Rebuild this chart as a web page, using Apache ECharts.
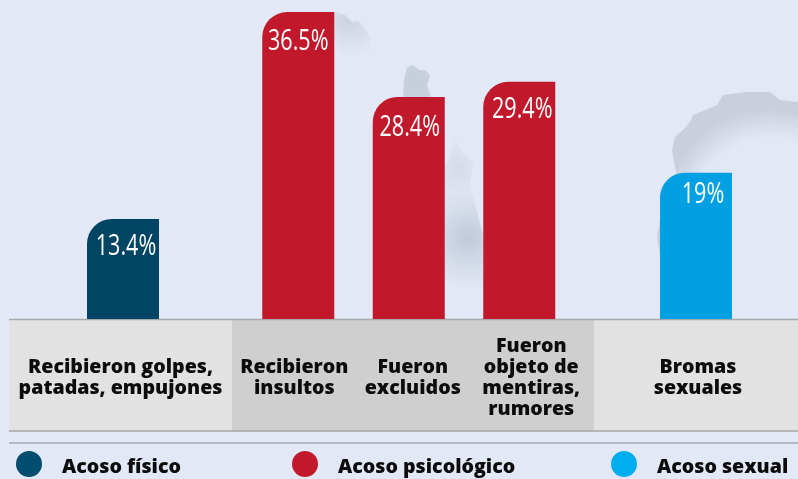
<!DOCTYPE html>
<html>
<head>
<meta charset="utf-8">
<style>
  html, body { margin: 0; padding: 0; background: #e2e8f5; }
  #chart { width: 798px; height: 479px; }
</style>
<script src="https://cdn.jsdelivr.net/npm/echarts@6/dist/echarts.min.js"></script>
</head>
<body>
<div id="chart"></div>
<script>
  const fisicoCategories = ['Recibieron golpes,\npatadas, empujones']
  const psicoCategories = ['Recibieron\ninsultos', 'Fueron\nexcluidos', 'Fueron\nobjeto de\nmentiras,\nrumores']
  const sexualCategories = ['Bromas\nsexuales']

  // printed percentages
  const fisicoLabels = ['13.4%']
  const psicoLabels = ['36.5%', '28.4%', '29.4%']
  const sexualLabels = ['19%']

  // the bars in the picture are not quite to scale with their printed numbers,
  // so these are the heights, in the units of the tallest bar
  const fisicoHeights = [11.9]
  const psicoHeights = [36.5, 26.4, 28.2]
  const sexualHeights = [17.4]

  const seriesNames = ['Acoso físico', 'Acoso psicológico', 'Acoso sexual']
  const seriesColors = ['#004563', '#c1182b', '#00a0e3']
  const legendColors = ['#004d70', '#c1182b', '#00aeef']

  const chart = echarts.init(document.getElementById('chart'))

  const sans = '"Open Sans", sans-serif'

  function grid(left, width) {
    return { left: left, width: width, top: 12, height: 307, containLabel: false }
  }
  function barAxis(index, data) {
    return { type: 'category', gridIndex: index, data: data, show: false }
  }
  function textAxis(index, data) {
    return {
      type: 'category',
      gridIndex: index,
      data: data,
      axisLine: { show: false },
      axisTick: { show: false },
      axisLabel: {
        interval: 0,
        margin: 59,
        verticalAlign: 'middle',
        color: '#0c0c0c',
        fontFamily: sans,
        fontWeight: 800,
        fontSize: 19.6,
        lineHeight: 21,
      },
    }
  }
  function yAxis(index) {
    return { type: 'value', gridIndex: index, min: 0, max: 36.5, show: false }
  }
  function barSeries(i, heights) {
    return {
      name: seriesNames[i],
      type: 'bar',
      xAxisIndex: i,
      yAxisIndex: i,
      barWidth: 72,
      itemStyle: { color: seriesColors[i], borderRadius: [25, 0, 0, 0] },
      data: heights,
    }
  }
  // the printed numbers are a condensed face, none is installed so squeeze the text
  function labelSeries(i, heights, labels, shifts) {
    return {
      type: 'custom',
      xAxisIndex: i,
      yAxisIndex: i,
      z: 3,
      clip: false,
      silent: true,
      data: heights.map(function (h, k) { return [k, h] }),
      renderItem: function (params, api) {
        const k = params.dataIndex
        const p = api.coord([api.value(0), api.value(1)])
        return {
          type: 'text',
          x: p[0] + shifts[k][0],
          y: p[1] + shifts[k][1],
          scaleX: 0.72,
          style: {
            text: labels[k],
            fill: '#fff',
            font: '400 30px ' + sans,
            textAlign: 'center',
            textVerticalAlign: 'middle',
          },
        }
      },
    }
  }
  function legend(i, left) {
    return {
      left: left,
      top: 451,
      padding: 0,
      icon: 'circle',
      itemWidth: 26,
      itemHeight: 26,
      selectedMode: false,
      data: [{ name: seriesNames[i], itemStyle: { color: legendColors[i] } }],
      formatter: function (name) { return '{a|' + name + '}' },
      textStyle: {
        padding: [0, 0, 0, 15],
        rich: {
          a: {
            color: '#0c0c0c',
            fontFamily: sans,
            fontWeight: 800,
            fontSize: 19.6,
            padding: [7, 0, 0, 0],
          },
        },
      },
    }
  }
  function shade(points, fill) {
    return { type: 'polygon', silent: true, shape: { points: points }, style: { fill: fill } }
  }
  function radial(x, y, r, stops) {
    return new echarts.graphic.RadialGradient(x, y, r, stops, true)
  }
  function panel(x, width, color) {
    return { type: 'rect', silent: true, shape: { x: x, y: 320, width: width, height: 111 }, style: { fill: color } }
  }
  function rule(x1, y, x2) {
    return { type: 'line', silent: true, shape: { x1: x1, y1: y, x2: x2, y2: y }, style: { stroke: '#a9a9ab', lineWidth: 1.4 } }
  }

  chart.setOption({
    backgroundColor: '#e2e8f5',
    animation: false,
    graphic: {
      z: -1,
      elements: [
        // faint map coastline behind the bars
        shade(
          [[657, 237], [660, 220], [670, 190], [676, 173], [672, 150], [675, 137], [685, 128], [690, 122], [693, 115], [705, 110], [717, 105], [723, 95], [747, 92], [770, 92], [780, 100], [798, 102], [798, 215], [770, 215], [700, 240], [660, 255]],
          radial(770, 215, 118, [
            { offset: 0, color: 'rgba(201,207,220,0)' },
            { offset: 0.65, color: 'rgba(201,207,220,0)' },
            { offset: 0.9, color: 'rgba(201,207,220,1)' },
            { offset: 1, color: 'rgba(201,207,220,1)' },
          ])
        ),
        shade(
          [[334, 12], [345, 15], [352, 22], [358, 21], [366, 30], [371, 40], [372, 60], [345, 60], [334, 40]],
          radial(350, 18, 38, [
            { offset: 0, color: 'rgba(201,207,220,0.9)' },
            { offset: 1, color: 'rgba(201,207,220,0)' },
          ])
        ),
        shade(
          [[404, 80], [407, 67], [413, 65], [419, 70], [425, 70], [430, 75], [427, 85], [431, 97], [403, 97]],
          radial(414, 82, 26, [
            { offset: 0, color: 'rgba(198,205,218,1)' },
            { offset: 1, color: 'rgba(198,205,218,0.8)' },
          ])
        ),
        shade(
          [[445, 170], [455, 137], [462, 153], [473, 162], [470, 185], [483, 235], [483, 285], [445, 285]],
          radial(468, 238, 50, [
            { offset: 0, color: 'rgba(190,198,214,0.9)' },
            { offset: 1, color: 'rgba(190,198,214,0)' },
          ])
        ),
        shade(
          [[445, 170], [455, 137], [462, 153], [473, 162], [470, 185], [474, 205], [445, 205]],
          radial(458, 168, 36, [
            { offset: 0, color: 'rgba(201,207,220,0.5)' },
            { offset: 1, color: 'rgba(201,207,220,0)' },
          ])
        ),
        panel(9, 223, '#e2e2e2'),
        panel(232, 362, '#cfcfcf'),
        panel(594, 204, '#e2e2e2'),
        rule(9, 319.5, 798),
        rule(9, 431, 798),
        rule(9, 443, 798),
      ],
    },
    grid: [
      grid(14, 218), grid(243, 331.5), grid(594, 204),
      grid(9, 223), grid(235, 355.5), grid(598, 200),
    ],
    xAxis: [
      barAxis(0, fisicoCategories), barAxis(1, psicoCategories), barAxis(2, sexualCategories),
      textAxis(3, fisicoCategories), textAxis(4, psicoCategories), textAxis(5, sexualCategories),
    ],
    yAxis: [yAxis(0), yAxis(1), yAxis(2), yAxis(3), yAxis(4), yAxis(5)],
    legend: [legend(0, 16), legend(1, 292), legend(2, 611)],
    series: [
      barSeries(0, fisicoHeights),
      barSeries(1, psicoHeights),
      barSeries(2, sexualHeights),
      labelSeries(0, fisicoHeights, fisicoLabels, [[3, 28]]),
      labelSeries(1, psicoHeights, psicoLabels, [[0, 29], [1, 31], [3, 28]]),
      labelSeries(2, sexualHeights, sexualLabels, [[7, 22]]),
    ],
  })
</script>
</body>
</html>
